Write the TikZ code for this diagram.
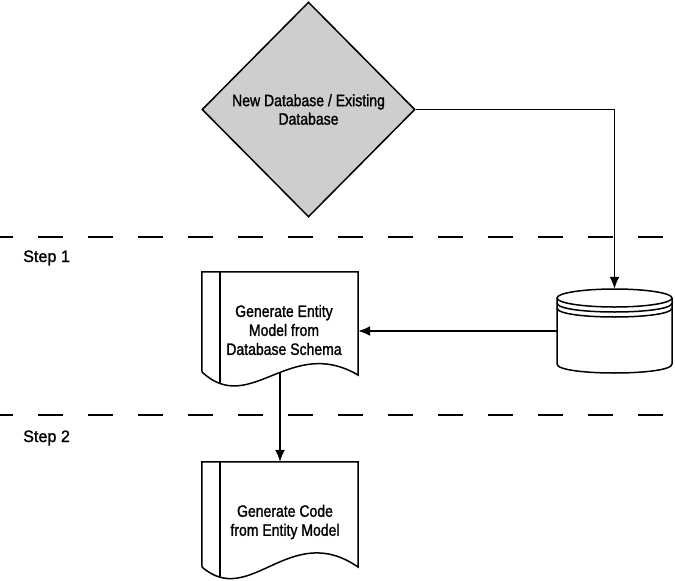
\documentclass[tikz,border=0pt]{standalone}
\usepackage{fontspec}
\setmainfont{Liberation Sans}[FakeStretch=0.85, FakeBold=1.3]
\newfontfamily\stepfont{Liberation Sans}[FakeStretch=0.98, FakeBold=1.3]
\usetikzlibrary{shapes.geometric,arrows.meta}
\definecolor{diafill}{RGB}{206,206,206}
\tikzset{
  outline/.style={line width=1.5pt, line join=miter},
  arr/.style={line width=1.5pt, -{Latex[length=12pt,width=10pt]}},
  sep/.style={line width=1.4pt, dash pattern=on 25pt off 25pt, dash phase=12pt},
  lbl/.style={align=center, inner sep=0pt, font=\fontsize{16.5}{19}\selectfont},
  steplbl/.style={anchor=base west, inner sep=0pt, font=\stepfont\fontsize{16.5}{19}\selectfont},
  box/.style={rectangle, inner sep=0pt}
}
\begin{document}
\begin{tikzpicture}[x=1pt,y=-1pt]
\useasboundingbox (0,0) rectangle (675,581);
% separators
\draw[sep] (0,237) -- (675,237);
\draw[sep] (0,415) -- (675,415);
\node[steplbl] (s1) at (23,262) {Step 1};
\node[steplbl] (s2) at (23,442) {Step 2};
% decision
\node[diamond, draw, outline, fill=diafill, minimum width=213pt, minimum height=215pt, inner sep=0pt,
      align=center, font=\fontsize{16.5}{18.5}\selectfont] (dia) at (308.5,109.5)
      {New Database / Existing\\Database};
% database cylinder
\node[box, minimum width=115pt, minimum height=84pt] (db) at (614.5,331) {};
\draw[outline, fill=white] (557,298) -- (557,364) .. controls (557,376) and (672,376) .. (672,364) -- (672,298);
\draw[outline] (614.5,298) ellipse [x radius=57.5pt, y radius=9pt];
\draw[outline] (557,303) .. controls (557,315) and (672,315) .. (672,303);
\draw[outline] (557,308) .. controls (557,320) and (672,320) .. (672,308);
% document 1
\node[box, minimum width=156pt, minimum height=100pt] (doc1) at (280,322) {};
\draw[outline, fill=white] (doc1.north west) -- (doc1.north east) -- (358,375)
   .. controls (290,335) and (250,417) .. (202,372) -- cycle;
\draw[outline] (220,272) -- (220,383);
\node[lbl] (t1) at (284,330) {Generate Entity\\Model from\\Database Schema};
% document 2
\node[box, minimum width=156pt, minimum height=105pt] (doc2) at (280,514.5) {};
\draw[outline, fill=white] (doc2.north west) -- (doc2.north east) -- (358,567)
   .. controls (290,520) and (250,609) .. (202,567) -- cycle;
\draw[outline] (220,462) -- (220,576.5);
\node[lbl] (t2) at (285,522) {Generate Code\\from Entity Model};
% connectors
\draw[arr] (dia.east) -| (db.north);
\draw[arr] (db.west) -- (db.west -| doc1.east);
\draw[arr] (doc1.south) -- (doc2.north);
\end{tikzpicture}
\end{document}
